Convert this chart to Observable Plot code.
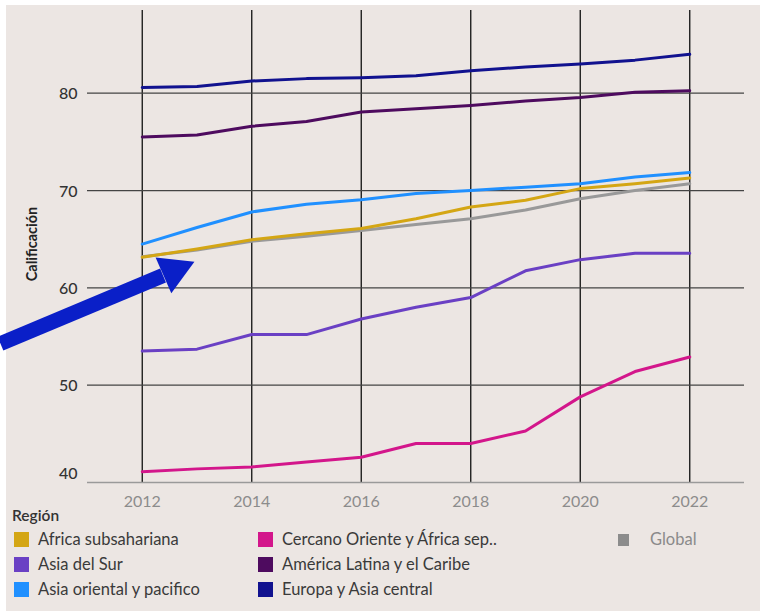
<!DOCTYPE html>
<html>
<head>
<meta charset="utf-8">
<script src="https://cdn.jsdelivr.net/npm/d3@7"></script>
<script src="https://cdn.jsdelivr.net/npm/@observablehq/plot@0.6"></script>
<style>
  html, body { margin: 0; padding: 0; background: #ffffff; width: 760px; height: 613px; overflow: hidden; }
  #bg { position: absolute; left: 6px; top: 5px; width: 754px; height: 606px; background: #ece6e3; }
  #chart { position: absolute; left: 0; top: 0; }
  #legend { position: absolute; left: 0; top: 0; width: 760px; font-family: Lato, "Open Sans", sans-serif; }
  .ltitle { position: absolute; left: 12px; top: 506px; font-size: 15.5px; font-weight: 600; color: #333; }
  .item { position: absolute; font-size: 16.5px; color: #3a3a3a; line-height: 19px; white-space: nowrap; }
  .sw { position: absolute; width: 15px; height: 15px; }
</style>
</head>
<body>
<div id="bg"></div>
<div id="chart"></div>
<div id="legend"></div>
<script>
const years = [2012, 2013, 2014, 2015, 2016, 2017, 2018, 2019, 2020, 2021, 2022];
const regions = ["Global", "Cercano Oriente y África sep..", "Asia del Sur", "Africa subsahariana",
  "Asia oriental y pacifico", "América Latina y el Caribe", "Europa y Asia central"];
const colors = ["#999999", "#d3168b", "#6a40c4", "#d4a614", "#2090ff", "#4e0b5f", "#11128f"];

const globalVals   = [63.2, 63.9, 64.8, 65.3, 65.9, 66.5, 67.1, 68.0, 69.15, 70.0, 70.7];
const menaVals     = [41.1, 41.4, 41.6, 42.1, 42.6, 44.0, 44.0, 45.3, 48.8, 51.4, 52.9];
const southAsia    = [53.5, 53.7, 55.2, 55.2, 56.8, 58.0, 59.0, 61.75, 62.9, 63.55, 63.55];
const africaSub    = [63.15, 64.0, 64.95, 65.55, 66.1, 67.1, 68.3, 69.0, 70.2, 70.7, 71.3];
const eastAsia     = [64.5, 66.2, 67.8, 68.6, 69.05, 69.7, 70.0, 70.35, 70.7, 71.4, 71.85];
const latam        = [75.5, 75.7, 76.6, 77.1, 78.07, 78.4, 78.75, 79.2, 79.55, 80.1, 80.25];
const europeCA     = [80.6, 80.7, 81.25, 81.5, 81.6, 81.8, 82.3, 82.7, 83.0, 83.4, 84.0];

const yTicks = [40, 50, 60, 70, 80];
const xTicks = [2012, 2014, 2016, 2018, 2020, 2022];

// Annotation arrow (in data coordinates)
const arrowTail = {x: 2009.41, y: 54.27};
const arrowEnd = {x: 2012.38, y: 61.27};
const arrowHead = {x: 2012.576, y: 61.76};

const series = [globalVals, menaVals, southAsia, africaSub, eastAsia, latam, europeCA];
const data = [];
regions.forEach((r, i) => years.forEach((yr, j) => data.push({region: r, year: yr, value: series[i][j]})));

const chart = Plot.plot({
  width: 760,
  height: 512,
  marginTop: 10,
  marginBottom: 30,
  marginLeft: 87,
  marginRight: 16,
  style: {background: "transparent", overflow: "visible"},
  x: {domain: [2011, 2023], label: null},
  y: {domain: [40, 88.5], label: null},
  color: {domain: regions, range: colors},
  marks: [
    Plot.ruleX(xTicks, {stroke: "#111", strokeWidth: 1.3}),
    Plot.ruleY(yTicks.filter(d => d > 40), {stroke: "#444", strokeWidth: 1.3}),
    Plot.ruleY([40], {stroke: "#9a9a9a", strokeWidth: 1.3}),
    Plot.axisX({ticks: xTicks, tickFormat: "d", tickSize: 0, tickPadding: 13, fill: "#8c8c8c", fontSize: 16, fontFamily: "Lato, sans-serif", label: null}),
    Plot.axisY({ticks: yTicks.filter(d => d > 40), tickSize: 0, tickPadding: 10, fill: "#333", fontSize: 16, fontWeight: 500, fontFamily: "Lato, sans-serif", label: null, dy: 1}),
    Plot.axisY({ticks: [40], tickSize: 0, tickPadding: 10, fill: "#333", fontSize: 16, fontWeight: 500, fontFamily: "Lato, sans-serif", label: null, dy: -9}),
    Plot.line(data, {x: "year", y: "value", z: "region", stroke: "region", strokeWidth: 3, curve: "linear"}),
    Plot.link([0], {x1: () => arrowTail.x, y1: () => arrowTail.y, x2: () => arrowEnd.x, y2: () => arrowEnd.y, stroke: "#0a1fc8", strokeWidth: 15}),
    Plot.dot([arrowHead], {x: "x", y: "y", symbol: "triangle", r: 14.5, fill: "#0a1fc8", stroke: "none", rotate: 66.3})
  ]
});
document.getElementById("chart").appendChild(chart);

// Y axis title
const svg = d3.select(chart);
svg.append("text")
  .attr("transform", "translate(37,244) rotate(-90)")
  .attr("text-anchor", "middle")
  .attr("font-family", "Lato, sans-serif")
  .attr("font-size", 14.5)
  .attr("font-weight", 700)
  .attr("fill", "#222")
  .text("Calificación");

// Legend
const legendItems = [
  {label: "Africa subsahariana", color: "#d4a614", x: 14, y: 532},
  {label: "Asia del Sur", color: "#6a40c4", x: 14, y: 557},
  {label: "Asia oriental y pacifico", color: "#2090ff", x: 14, y: 582},
  {label: "Cercano Oriente y África sep..", color: "#d3168b", x: 258, y: 532},
  {label: "América Latina y el Caribe", color: "#4e0b5f", x: 258, y: 557},
  {label: "Europa y Asia central", color: "#11128f", x: 258, y: 582}
];
const legend = d3.select("#legend");
legend.append("div").attr("class", "ltitle").text("Región");
legendItems.forEach(it => {
  legend.append("div").attr("class", "sw")
    .style("left", it.x + "px").style("top", it.y + "px").style("background", it.color);
  legend.append("div").attr("class", "item")
    .style("left", (it.x + 24) + "px").style("top", (it.y - 2) + "px").text(it.label);
});
legend.append("div").attr("class", "sw")
  .style("left", "618px").style("top", "534px").style("width", "11px").style("height", "12px").style("background", "#8c8c8c");
legend.append("div").attr("class", "item")
  .style("left", "650px").style("top", "530px").style("color", "#8a8a8a").text("Global");
</script>
</body>
</html>
